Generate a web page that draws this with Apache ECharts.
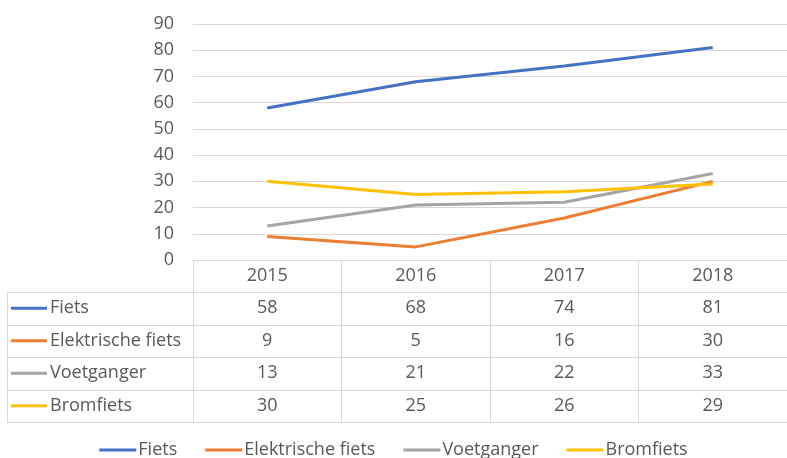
<!DOCTYPE html>
<html>
<head>
<meta charset="utf-8">
<script src="https://cdn.jsdelivr.net/npm/echarts@6/dist/echarts.min.js"></script>
<style>
  html, body { margin: 0; padding: 0; width: 100%; height: 100%; background: #fff; }
  #chart { width: 787px; height: 458px; }
</style>
</head>
<body>
<div id="chart"></div>
<script>
var years = ['2015', '2016', '2017', '2018'];
var names = ['Fiets', 'Elektrische fiets', 'Voetganger', 'Bromfiets'];
var fiets = [58, 68, 74, 81];
var elektrisch = [9, 5, 16, 30];
var voetganger = [13, 21, 22, 33];
var bromfiets = [30, 25, 26, 29];
var colors = ['#4472C4', '#ED7D31', '#A5A5A5', '#FFC000'];
var yTicks = [0, 10, 20, 30, 40, 50, 60, 70, 80, 90];

var allData = [fiets, elektrisch, voetganger, bromfiets];
var FONT = 'Open Sans';
var FS = 18;
var TXT = '#595959';
var LINE = '#d9d9d9';

var chart = echarts.init(document.getElementById('chart'));

var series = names.map(function (n, i) {
  return {
    name: n,
    type: 'line',
    data: allData[i],
    showSymbol: false,
    symbol: 'none',
    lineStyle: { width: 3, color: colors[i] },
    itemStyle: { color: colors[i] },
    z: 3 + i
  };
});

chart.setOption({
  animation: false,
  color: colors,
  grid: { left: 193, right: -2, top: 24, bottom: 198 },
  xAxis: {
    type: 'category',
    data: years,
    boundaryGap: true,
    axisLine: { show: true, lineStyle: { color: LINE, width: 1 } },
    axisTick: { show: true, length: 162, lineStyle: { color: LINE, width: 1 } },
    axisLabel: { color: TXT, fontFamily: FONT, fontSize: FS, margin: 7 }
  },
  yAxis: {
    type: 'value',
    min: yTicks[0],
    max: yTicks[yTicks.length - 1],
    interval: 10,
    axisLine: { show: false },
    axisTick: { show: false },
    axisLabel: { color: TXT, fontFamily: FONT, fontSize: FS, margin: 19 },
    splitLine: { lineStyle: { color: LINE, width: 1 } }
  },
  legend: {
    bottom: -6,
    left: 'center',
    icon: 'rect',
    itemWidth: 37,
    itemHeight: 3,
    itemGap: 28,
    textStyle: { color: TXT, fontFamily: FONT, fontSize: FS, padding: [0, 0, 0, -3] },
    data: names
  },
  series: series
});

// data table under the axis
var rowTop = 292, rowH = 32.5;
var elems = [];
for (var r = 0; r <= names.length; r++) {
  var y = Math.round(rowTop + r * rowH) + 0.5;
  elems.push({ type: 'line', shape: { x1: 7, y1: y, x2: 787, y2: y }, style: { stroke: LINE, lineWidth: 1 }, silent: true });
}
elems.push({ type: 'line', shape: { x1: 7.5, y1: rowTop, x2: 7.5, y2: rowTop + names.length * rowH }, style: { stroke: LINE, lineWidth: 1 }, silent: true });
names.forEach(function (n, i) {
  var cy = rowTop + (i + 0.5) * rowH;
  elems.push({ type: 'line', shape: { x1: 11, y1: cy, x2: 47, y2: cy }, style: { stroke: colors[i], lineWidth: 3 }, silent: true });
  elems.push({ type: 'text', x: 50, y: cy, style: { text: n, fill: TXT, font: FS + 'px "' + FONT + '"', textVerticalAlign: 'middle' }, silent: true });
  allData[i].forEach(function (v, j) {
    var cx = chart.convertToPixel({ xAxisIndex: 0 }, j);
    elems.push({ type: 'text', x: cx, y: cy, style: { text: String(v), fill: TXT, font: FS + 'px "' + FONT + '"', textAlign: 'center', textVerticalAlign: 'middle' }, silent: true });
  });
});
chart.setOption({ graphic: { elements: elems } });
</script>
</body>
</html>
